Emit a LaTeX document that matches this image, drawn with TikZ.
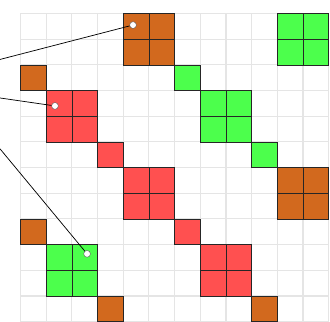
\documentclass[tikz,border=0pt]{standalone}
\definecolor{tileBrown}{RGB}{210,105,30}
\definecolor{tileRed}{RGB}{255,80,80}
\definecolor{tileGreen}{RGB}{76,255,76}
\begin{document}
\begin{tikzpicture}[
    cell/.style={draw=black!85, line width=0.75pt},
    pin/.style={circle, fill=white, draw=black!70, line width=0.4pt, inner sep=0pt, minimum size=7.5pt},
    lead/.style={black, line width=0.8pt}]
    \useasboundingbox (-0.8,0) rectangle (12.05,12.525);

    % Background grid
    \draw[gray!20, line width=1.2pt] (0,0) grid (12,12);

    % 2x2 blocks (lower left corner / colour)
    \foreach \x/\y/\col in {4/10/tileBrown, 10/10/tileGreen, 1/7/tileRed, 7/7/tileGreen,
                            4/4/tileRed, 10/4/tileBrown, 1/1/tileGreen, 7/1/tileRed} {
        \foreach \i in {0,1} {
            \foreach \j in {0,1} {
                \draw[cell, fill=\col] (\x+\i,\y+\j) rectangle +(1,1);
            }
        }
    }

    % Single cells
    \foreach \x/\y/\col in {0/9/tileBrown, 6/9/tileGreen, 3/6/tileRed, 9/6/tileGreen,
                            0/3/tileBrown, 6/3/tileRed, 3/0/tileBrown, 9/0/tileBrown} {
        \draw[cell, fill=\col] (\x,\y) rectangle +(1,1);
    }

    % Markers and their leads
    \node[pin] (pinA) at (4.38,11.55) {};
    \node[pin] (pinB) at (1.34,8.40) {};
    \node[pin] (pinC) at (2.59,2.64) {};
    \coordinate (endA) at (-0.8,10.21);
    \coordinate (endB) at (-0.8,8.71);
    \coordinate (endC) at (-0.8,6.73);
    \draw[lead] (endA) -- (pinA);
    \draw[lead] (endB) -- (pinB);
    \draw[lead] (endC) -- (pinC);

\end{tikzpicture}
\end{document}
